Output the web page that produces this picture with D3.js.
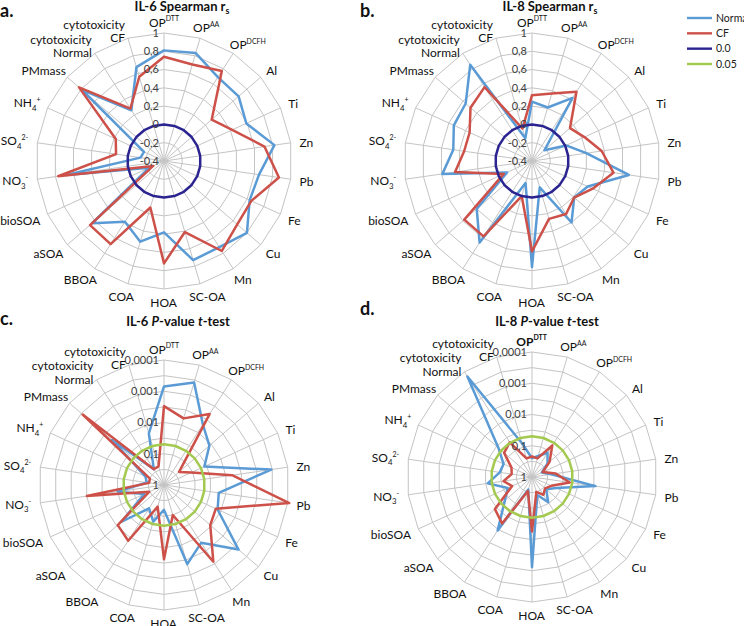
<!DOCTYPE html>
<html><head><meta charset="utf-8">
<script src="https://cdn.jsdelivr.net/npm/d3@7"></script>
<style>
body{margin:0;background:#fff;}
svg{display:block;font-family:Lato,"Open Sans",sans-serif;}
</style></head><body>
<svg id="chart" width="744" height="626"></svg>
<script>
// ---------- DATA ----------
const categories = ["OP^{DTT}", "OP^{AA}", "OP^{DCFH}", "Al", "Ti", "Zn", "Pb", "Fe", "Cu", "Mn",
  "SC-OA", "HOA", "COA", "BBOA", "aSOA", "bioSOA", "NO_{3}^{-}", "SO_{4}^{2-}", "NH_{4}^{+}",
  "PMmass", "cytotoxicity|Normal", "cytotoxicity|CF"];

const seriesNames = ["Normal", "CF", "0.0", "0.05"];

// IL-6 Spearman r_s
const il6SpearmanNormal = [0.81, 0.83, 0.69, 0.68, 0.59, 0.82, 0.65, 0.63, 0.80, 0.72, 0.73, 0.38, 0.52, 0.39, 0.64, -0.22, 0.68, -0.14, -0.16, 0.79, 0.26, 0.67];
const il6SpearmanCF     = [0.74, 0.70, 0.77, 0.29, 0.42, 0.71, 0.87, 0.65, 0.66, 0.77, 0.41, 0.72, 0.13, 0.68, 0.67, -0.27, 0.77, 0.13, 0.18, 0.83, 0.28, 0.56];
// IL-8 Spearman r_s
const il8SpearmanNormal = [0.25, 0.21, 0.42, -0.22, 0.01, 0.20, 0.67, 0.27, 0.21, 0.40, -0.10, 0.76, -0.15, 0.66, 0.40, -0.10, 0.59, 0.47, 0.54, 0.56, 0.85, -0.14];
const il8SpearmanCF     = [0.32, 0.37, 0.50, 0.15, 0.23, 0.37, 0.50, 0.33, 0.21, 0.29, 0.26, 0.59, 0.00, 0.58, 0.58, -0.06, 0.45, 0.35, 0.35, 0.49, 0.56, -0.03];
// IL-6 P-value t-test
const il6PNormal = [0.0007, 0.00038, 0.005, 0.012, 0.038, 0.00034, 0.017, 0.013, 0.0007, 0.0063, 0.0023, 0.16, 0.06, 0.13, 0.016, 0.2, 0.032, 0.28, 0.22, 0.0063, 0.25, 0.019];
const il6PCF     = [0.003, 0.006, 0.002, 0.23, 0.11, 0.0063, 0.000089, 0.015, 0.011, 0.0012, 0.1, 0.0042, 0.19, 0.0076, 0.011, 0.3, 0.0032, 0.33, 0.32, 0.00036, 0.25, 0.24];
// IL-8 P-value t-test
const il8PNormal = [0.25, 0.2, 0.12, 0.22, 0.45, 0.24, 0.0089, 0.14, 0.25, 0.11, 0.25, 0.0013, 0.38, 0.0093, 0.071, 0.14, 0.037, 0.091, 0.1, 0.038, 0.00015, 0.076];
const il8PCF     = [0.22, 0.24, 0.063, 0.18, 0.42, 0.17, 0.06, 0.21, 0.28, 0.21, 0.32, 0.018, 0.34, 0.017, 0.027, 0.2, 0.12, 0.22, 0.19, 0.066, 0.048, 0.24];

const spearmanRef = 0.0;
const pRef = 0.05;
const spearmanTicks = [-0.4, -0.2, 0, 0.2, 0.4, 0.6, 0.8, 1];
const pTicks = [1, 0.1, 0.01, 0.001, 0.0001];
const pRings = [0.31623, 0.1, 0.031623, 0.01, 0.0031623, 0.001, 0.00031623, 0.0001];

// ---------- STYLE ----------
const colNormal = "#5B9BD5", colCF = "#CD5049", colZero = "#2B2490", colP = "#A3C94F";
const gridCol = "#C4C4C4";
const locale = d3.formatLocale({decimal: ",", thousands: ".", grouping: [3], currency: ["", ""], minus: "-"});
const fmt = locale.format("~g");

const svg = d3.select("#chart");
const n = categories.length;
const ang = i => i * 2 * Math.PI / n;

function rich(textSel, str, size) {
  const parts = str.split(/(\^\{[^}]*\}|_\{[^}]*\})/).filter(s => s.length);
  let shift = 0;
  parts.forEach(p => {
    let s = 0, fs = size, t = p;
    if (p.startsWith("^{")) { s = -0.42 * size; fs = size * 0.58; t = p.slice(2, -1); }
    else if (p.startsWith("_{")) { s = 0.28 * size; fs = size * 0.65; t = p.slice(2, -1); }
    textSel.append("tspan").attr("dy", s - shift).attr("font-size", fs).text(t);
    shift = s;
  });
}

const panels = [
  {letter: "a.", lx: 0, ly: 17, cx: 164, cy: 161, R: 128, type: "lin", normal: il6SpearmanNormal, cf: il6SpearmanCF,
   title: [["IL-6 Spearman r", ""], ["s", "sub"]], tx: 182, ty: 11, boldFirst: false},
  {letter: "b.", lx: 360, ly: 17, cx: 532, cy: 161, R: 128, type: "lin", normal: il8SpearmanNormal, cf: il8SpearmanCF,
   title: [["IL-8 Spearman r", ""], ["s", "sub"]], tx: 550, ty: 11, boldFirst: false},
  {letter: "c.", lx: 0, ly: 325, cx: 164, cy: 485, R: 125, type: "log", normal: il6PNormal, cf: il6PCF,
   title: [["IL-6 ", ""], ["P", "it"], ["-value ", ""], ["t", "it"], ["-test", ""]], tx: 178, ty: 326, boldFirst: false},
  {letter: "d.", lx: 360, ly: 315, cx: 532, cy: 477, R: 125, type: "log", normal: il8PNormal, cf: il8PCF,
   title: [["IL-8 ", ""], ["P", "it"], ["-value ", ""], ["t", "it"], ["-test", ""]], tx: 547, ty: 326, boldFirst: true}
];

panels.forEach(p => {
  const scale = p.type === "lin"
    ? d3.scaleLinear().domain([-0.4, 1]).range([0, p.R])
    : d3.scaleLog().domain([1, 0.0001]).range([0, p.R]);
  const rings = p.type === "lin" ? spearmanTicks.slice(1) : pRings;
  const ticks = p.type === "lin" ? spearmanTicks : pTicks;
  const refVal = p.type === "lin" ? spearmanRef : pRef;
  const refCol = p.type === "lin" ? colZero : colP;

  const g = svg.append("g").attr("transform", `translate(${p.cx},${p.cy})`);
  const radial = d3.lineRadial().angle((d, i) => ang(i)).radius(d => scale(d)).curve(d3.curveLinearClosed);

  g.selectAll(".ring").data(rings).join("path")
    .attr("d", v => radial(categories.map(() => v)))
    .attr("fill", "none").attr("stroke", gridCol).attr("stroke-width", 1);
  g.selectAll(".spoke").data(categories).join("line")
    .attr("x1", 0).attr("y1", 0)
    .attr("x2", (d, i) => p.R * Math.sin(ang(i)))
    .attr("y2", (d, i) => -p.R * Math.cos(ang(i)))
    .attr("stroke", gridCol).attr("stroke-width", 1);

  [[p.normal, colNormal], [p.cf, colCF], [categories.map(() => refVal), refCol]].forEach(([vals, col]) => {
    g.append("path").attr("d", radial(vals)).attr("fill", "none")
      .attr("stroke", col).attr("stroke-width", 2.5).attr("stroke-linejoin", "round");
  });

  g.selectAll(".tick").data(ticks).join("text")
    .attr("x", -5).attr("y", v => -scale(v)).attr("dy", "0.35em")
    .attr("text-anchor", "end").attr("font-size", 11).attr("fill", "#404040")
    .text(v => fmt(v));

  categories.forEach((c, i) => {
    const a = ang(i), s = Math.sin(a), co = Math.cos(a);
    const lg = g.append("g");
    if (c.includes("|")) {
      const lines = c.split("|");
      const vx = p.R * s, vy = -p.R * co;
      lines.forEach((ln, k) => {
        lg.append("text").attr("x", vx - 3).attr("y", vy + 4 - (lines.length - 1 - k) * 13.5)
          .attr("text-anchor", "end").attr("font-size", 12).attr("fill", "#111").text(ln);
      });
    } else {
      const t = lg.append("text").attr("font-size", 12).attr("fill", "#111");
      if (i === 0 && p.boldFirst) t.attr("font-weight", "bold");
      rich(t, c, 12);
      const bb = t.node().getBBox();
      const rr = p.R + 8;
      const vx = rr * s, vy = -rr * co;
      const cxL = vx + s * (bb.width / 2 + 1);
      const cyL = vy - co * 4 + 1;
      t.attr("x", cxL - bb.width / 2 - bb.x).attr("y", cyL - (bb.y + bb.height / 2));
    }
  });

  const tt = svg.append("text").attr("x", p.tx).attr("y", p.ty).attr("text-anchor", "middle")
    .attr("font-size", 13).attr("font-weight", "bold").attr("fill", "#111");
  p.title.forEach(([txt, st]) => {
    const ts = tt.append("tspan").text(txt);
    if (st === "it") ts.attr("font-style", "italic");
    if (st === "sub") { ts.attr("dy", 3).attr("font-size", 9); }
  });
  svg.append("text").attr("x", p.lx).attr("y", p.ly).attr("font-size", 18).attr("font-weight", "bold")
    .attr("fill", "#111").text(p.letter);
});

// legend
const legend = svg.append("g");
const legItems = [[seriesNames[0], colNormal], [seriesNames[1], colCF], [seriesNames[2], colZero], [seriesNames[3], colP]];
const legY = d3.scalePoint().domain(legItems.map(d => d[0])).range([18, 64]);
legItems.forEach(([name, col]) => {
  legend.append("line").attr("x1", 687).attr("x2", 712).attr("y1", legY(name)).attr("y2", legY(name))
    .attr("stroke", col).attr("stroke-width", 2.4);
  legend.append("text").attr("x", 716).attr("y", legY(name)).attr("dy", "0.35em")
    .attr("font-size", 10.5).attr("fill", "#222").text(name);
});
</script>
</body></html>
